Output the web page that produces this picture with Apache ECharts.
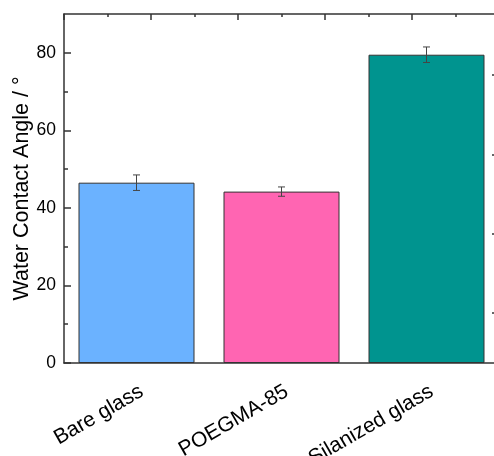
<!DOCTYPE html>
<html>
<head>
<meta charset="utf-8">
<script src="https://cdn.jsdelivr.net/npm/echarts@6/dist/echarts.min.js"></script>
<style>html,body{margin:0;padding:0;background:#fff}#c{width:494px;height:456px}</style>
</head>
<body>
<div id="c"></div>
<script>
const categories = ['Bare glass', 'POEGMA-85', 'Silanized glass'];
const values = [46.5, 44.2, 79.5];
const errors = [2.0, 1.2, 2.0];
const colors = ['#6BB2FF', '#FF65B2', '#00948F'];
const yTicks = [0, 20, 40, 60, 80];

const chart = echarts.init(document.getElementById('c'), null, {renderer: 'canvas'});
const font = 'Liberation Sans, Arial, sans-serif';
const axisColor = '#333';
chart.setOption({
  animation: false,
  grid: {left: 64, top: 14, width: 435, height: 349, containLabel: false, outerBoundsMode: 'none'},
  xAxis: [{
    type: 'category', data: categories, position: 'bottom',
    axisLine: {lineStyle: {color: axisColor, width: 1.5}},
    axisTick: {inside: true, alignWithLabel: true, length: 7, lineStyle: {color: axisColor, width: 1.5}},
    axisLabel: {rotate: 30, fontSize: 21, color: '#000', fontFamily: font, margin: 18, interval: 0, verticalAlign: 'top'},
    splitLine: {show: false}
  }, {
    type: 'value', position: 'top', min: 0, max: 10, interval: 2,
    axisLine: {show: true, onZero: false, lineStyle: {color: axisColor, width: 1.5}},
    axisTick: {show: true, inside: true, length: 6, lineStyle: {color: axisColor, width: 1.5}},
    minorTick: {show: true, splitNumber: 2, length: 3, lineStyle: {color: axisColor, width: 1.5}},
    axisLabel: {show: false}, splitLine: {show: false}
  }],
  yAxis: [{
    type: 'value', min: 0, max: 90, interval: 20,
    name: 'Water Contact Angle / °', nameLocation: 'middle', nameGap: 31, nameMoveOverlap: false,
    nameTextStyle: {fontSize: 21.5, color: '#000', fontFamily: font},
    axisLine: {show: true, lineStyle: {color: axisColor, width: 1.5}},
    axisTick: {show: true, inside: true, length: 7, customValues: [0, 20, 40, 60, 80], lineStyle: {color: axisColor, width: 1.5}},
    minorTick: {show: true, splitNumber: 2, length: 4, lineStyle: {color: axisColor, width: 1.5}},
    axisLabel: {fontSize: 17.5, color: '#000', fontFamily: font, margin: 8, customValues: yTicks},
    splitLine: {show: false}
  }, {
    type: 'value', min: 0, max: 90, position: 'right',
    axisLine: {show: true, lineStyle: {color: axisColor, width: 1.5}},
    axisTick: {show: true, inside: true, length: 7, customValues: [12.9, 33.3, 53.7, 74.3], lineStyle: {color: axisColor, width: 1.5}},
    axisLabel: {show: false}, splitLine: {show: false}
  }],
  series: [{
    type: 'bar', barCategoryGap: '20%',
    data: values.map((v, i) => ({value: v, itemStyle: {color: colors[i]}})),
    itemStyle: {borderColor: '#333', borderWidth: 1}
  }, {
    type: 'custom', xAxisIndex: 0, yAxisIndex: 0,
    data: values.map((v, i) => [i, v - errors[i], v + errors[i]]),
    renderItem: function (params, api) {
      const lo = api.coord([api.value(0), api.value(1)]);
      const hi = api.coord([api.value(0), api.value(2)]);
      const w = 3.5;
      const st = {stroke: '#444', lineWidth: 1};
      return {type: 'group', children: [
        {type: 'line', shape: {x1: hi[0], y1: hi[1], x2: lo[0], y2: lo[1]}, style: st},
        {type: 'line', shape: {x1: hi[0] - w, y1: hi[1], x2: hi[0] + w, y2: hi[1]}, style: st},
        {type: 'line', shape: {x1: lo[0] - w, y1: lo[1], x2: lo[0] + w, y2: lo[1]}, style: st}
      ]};
    },
    z: 5
  }]
});
</script>
</body>
</html>
